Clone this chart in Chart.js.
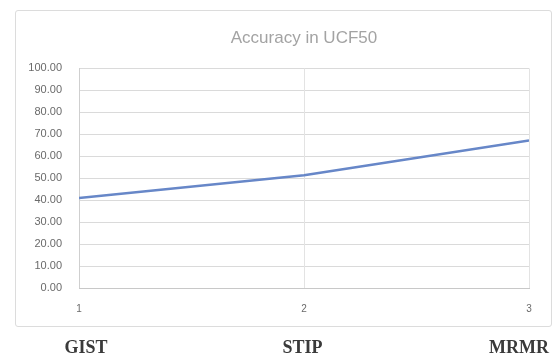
<!DOCTYPE html>
<html lang="en">
<head>
  <meta charset="UTF-8" />
  <title>Accuracy in UCF50</title>
  <script src="https://cdn.jsdelivr.net/npm/chart.js"></script>
  <style>
    body { margin: 0; background: #fff; }
    .wrap { position: relative; width: 558px; height: 361px; }
    .frame {
      position: absolute; left: 15px; top: 10px; width: 535px; height: 315px;
      border: 1px solid #dcdcdc; border-radius: 3px;
    }
    canvas { position: absolute; left: 0; top: 0; }
  </style>
</head>
<body>
  <div class="wrap">
    <div class="frame"></div>
    <canvas id="acc" width="558" height="361"></canvas>
  </div>

  <script>
    const methods = ['GIST', 'STIP', 'MRMR'];
    const positions = [1, 2, 3];
    const accuracy = [41.0, 51.3, 67.2];
    const yTicks = [0, 10, 20, 30, 40, 50, 60, 70, 80, 90, 100];
    // the method names under the frame sit slightly inside the 1..3 span
    const nameAxisMin = 0.968;
    const nameAxisMax = 3.046;

    const points = positions.map((p, i) => ({ x: p, y: accuracy[i] }));

    // keep the label overhang from squeezing the plot sideways
    function noSidePad(s, h) {
      s.height = h;
      s.paddingLeft = 0;
      s.paddingRight = 0;
    }

    new Chart(document.getElementById('acc'), {
      type: 'line',
      data: {
        datasets: [{
          label: 'Accuracy',
          data: points,
          borderColor: '#6787c8',
          borderWidth: 2.5,
          pointRadius: 0,
          tension: 0,
          fill: false
        }]
      },
      options: {
        responsive: false,
        animation: false,
        layout: { padding: { left: 15, right: 29, top: 14, bottom: 0 } },
        plugins: {
          legend: { display: false },
          tooltip: { enabled: false },
          title: {
            display: true,
            text: 'Accuracy in UCF50',
            fullSize: false,
            color: '#a3a3a3',
            font: { family: 'Liberation Sans', size: 17, weight: 'normal' },
            padding: { top: 14, bottom: 20 }
          }
        },
        scales: {
          y: {
            min: 0, max: 100,
            afterBuildTicks: s => { s.ticks = yTicks.map(v => ({ value: v })); },
            afterFit: s => { s.width = 64; },
            ticks: {
              color: '#6a6a6a',
              font: { family: 'Liberation Sans', size: 11 },
              padding: 17,
              callback: v => Number(v).toFixed(2)
            },
            grid: { color: '#dadada', drawTicks: false },
            border: { display: true, color: '#cfcfcf' }
          },
          x: {
            type: 'linear',
            min: 1, max: 3,
            weight: 1,
            afterBuildTicks: s => { s.ticks = positions.map(v => ({ value: v })); },
            afterFit: s => noSidePad(s, 32),
            ticks: {
              color: '#6a6a6a',
              font: { family: 'Liberation Sans', size: 10 },
              padding: 15
            },
            grid: { color: '#e3e3e3', drawTicks: false },
            border: { display: true, color: '#c8c8c8' }
          },
          x2: {
            type: 'linear',
            position: 'bottom',
            min: nameAxisMin, max: nameAxisMax,
            weight: 2,
            afterBuildTicks: s => { s.ticks = positions.map(v => ({ value: v })); },
            afterFit: s => noSidePad(s, 41),
            ticks: {
              color: '#3a3a3a',
              font: { family: 'Liberation Serif', size: 18, weight: 'bold' },
              padding: 18,
              callback: (v, i) => methods[i]
            },
            grid: { display: false, drawTicks: false },
            border: { display: false }
          }
        }
      }
    });
  </script>
</body>
</html>
